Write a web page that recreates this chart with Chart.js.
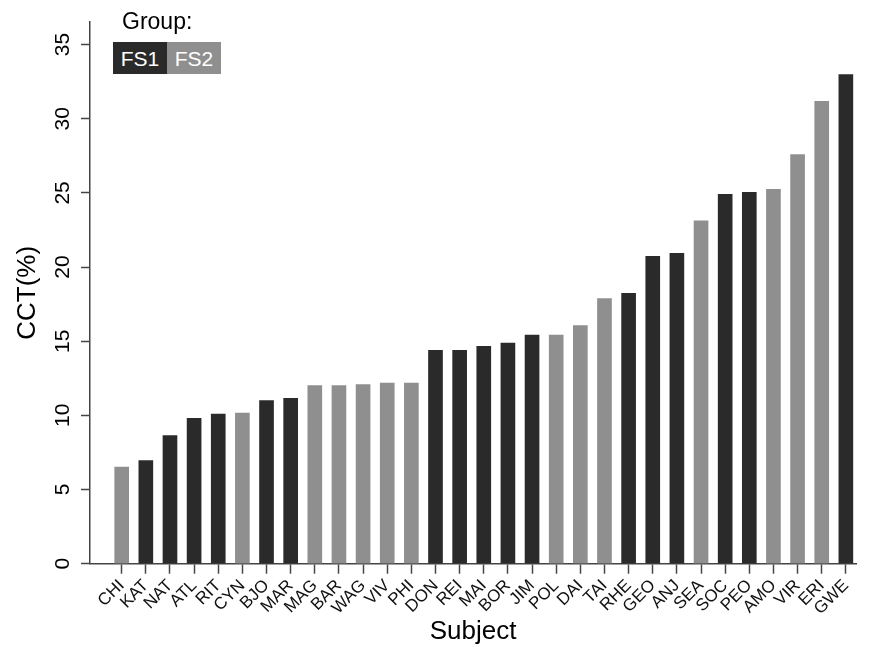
<!DOCTYPE html>
<html>
<head>
<meta charset="utf-8">
<script src="https://cdn.jsdelivr.net/npm/chart.js@4/dist/chart.umd.min.js"></script>
<style>
  html, body { margin: 0; padding: 0; background: #fff; }
  #wrap { position: relative; width: 870px; height: 647px; font-family: "Liberation Sans", Arial, Helvetica, sans-serif; }
  canvas { position: absolute; left: 0; top: 0; }
  #legTitle { position: absolute; left: 122px; top: 7px; font-size: 23px; color: #000; line-height: 28px; }
  .legBox { position: absolute; top: 42px; width: 54px; height: 32px; color: #fff; font-size: 21px; line-height: 33px; text-align: center; }
</style>
</head>
<body>
<div id="wrap">
  <canvas id="c" width="870" height="647"></canvas>
  <div id="legTitle">Group:</div>
  <div class="legBox" style="left:113px; background:#2a2a2a;">FS1</div>
  <div class="legBox" style="left:167px; background:#8f8f8f;">FS2</div>
</div>
<script>
const subjects = ["CHI","KAT","NAT","ATL","RIT","CYN","BJO","MAR","MAG","BAR","WAG","VIV","PHI","DON","REI","MAI","BOR","JIM","POL","DAI","TAI","RHE","GEO","ANJ","SEA","SOC","PEO","AMO","VIR","ERI","GWE"];
const cct = [6.52,6.95,8.64,9.80,10.09,10.16,11.0,11.15,12.0,12.0,12.07,12.18,12.18,14.38,14.38,14.65,14.88,15.42,15.42,16.05,17.87,18.23,20.73,20.92,23.11,24.9,25.04,25.24,27.58,31.17,32.97];
const groups = ["FS2","FS1","FS1","FS1","FS1","FS2","FS1","FS1","FS2","FS2","FS2","FS2","FS2","FS1","FS1","FS1","FS1","FS1","FS2","FS2","FS2","FS1","FS1","FS1","FS2","FS1","FS1","FS2","FS2","FS2","FS1"];
const yTicks = [0,5,10,15,20,25,30,35];
const groupColors = { FS1: "#2a2a2a", FS2: "#8f8f8f" };

const FONT = "'Liberation Sans', Arial, Helvetica, sans-serif";

new Chart(document.getElementById("c"), {
  type: "bar",
  data: {
    datasets: [{
      data: subjects.map((s, i) => ({ x: i, y: cct[i] })),
      backgroundColor: groups.map(g => groupColors[g]),
      borderWidth: 0,
      barThickness: 14
    }]
  },
  options: {
    responsive: false,
    animation: false,
    devicePixelRatio: 1,
    layout: { padding: { top: 22, right: 14, left: 0, bottom: 0 } },
    plugins: { legend: { display: false }, tooltip: { enabled: false } },
    scales: {
      x: {
        type: "linear",
        offset: false,
        min: -1.313,
        max: 30.42,
        afterBuildTicks: (scale) => { scale.ticks = subjects.map((s, i) => ({ value: i })); },
        afterFit: (scale) => { scale.height = 83.3; },
        grid: { offset: false, drawOnChartArea: false, drawTicks: true, tickLength: 10, color: "#444", tickWidth: 1.5 },
        border: { display: true, color: "#444", width: 1.5 },
        ticks: {
          autoSkip: false,
          minRotation: 45,
          maxRotation: 45,
          padding: 2,
          color: "#111",
          font: { family: FONT, size: 17 },
          callback: (v) => subjects[v] !== undefined ? subjects[v] : ""
        },
        title: { display: true, text: "Subject", color: "#000", font: { family: FONT, size: 26 }, padding: { top: 0, bottom: 0 } }
      },
      y: {
        min: 0,
        max: 36.52,
        afterBuildTicks: (scale) => { scale.ticks = yTicks.map(v => ({ value: v })); },
        afterFit: (scale) => { scale.width = 90; },
        grid: { drawOnChartArea: false, drawTicks: true, tickLength: 9, color: "#444", tickWidth: 1.5 },
        border: { display: true, color: "#444", width: 1.5 },
        ticks: {
          minRotation: 90,
          maxRotation: 90,
          crossAlign: "center",
          padding: 6,
          color: "#000",
          font: { family: FONT, size: 21 }
        },
        title: { display: true, text: "CCT(%)", color: "#000", font: { family: FONT, size: 26 }, padding: { top: 12, bottom: 0 } }
      }
    }
  }
});
</script>
</body>
</html>
